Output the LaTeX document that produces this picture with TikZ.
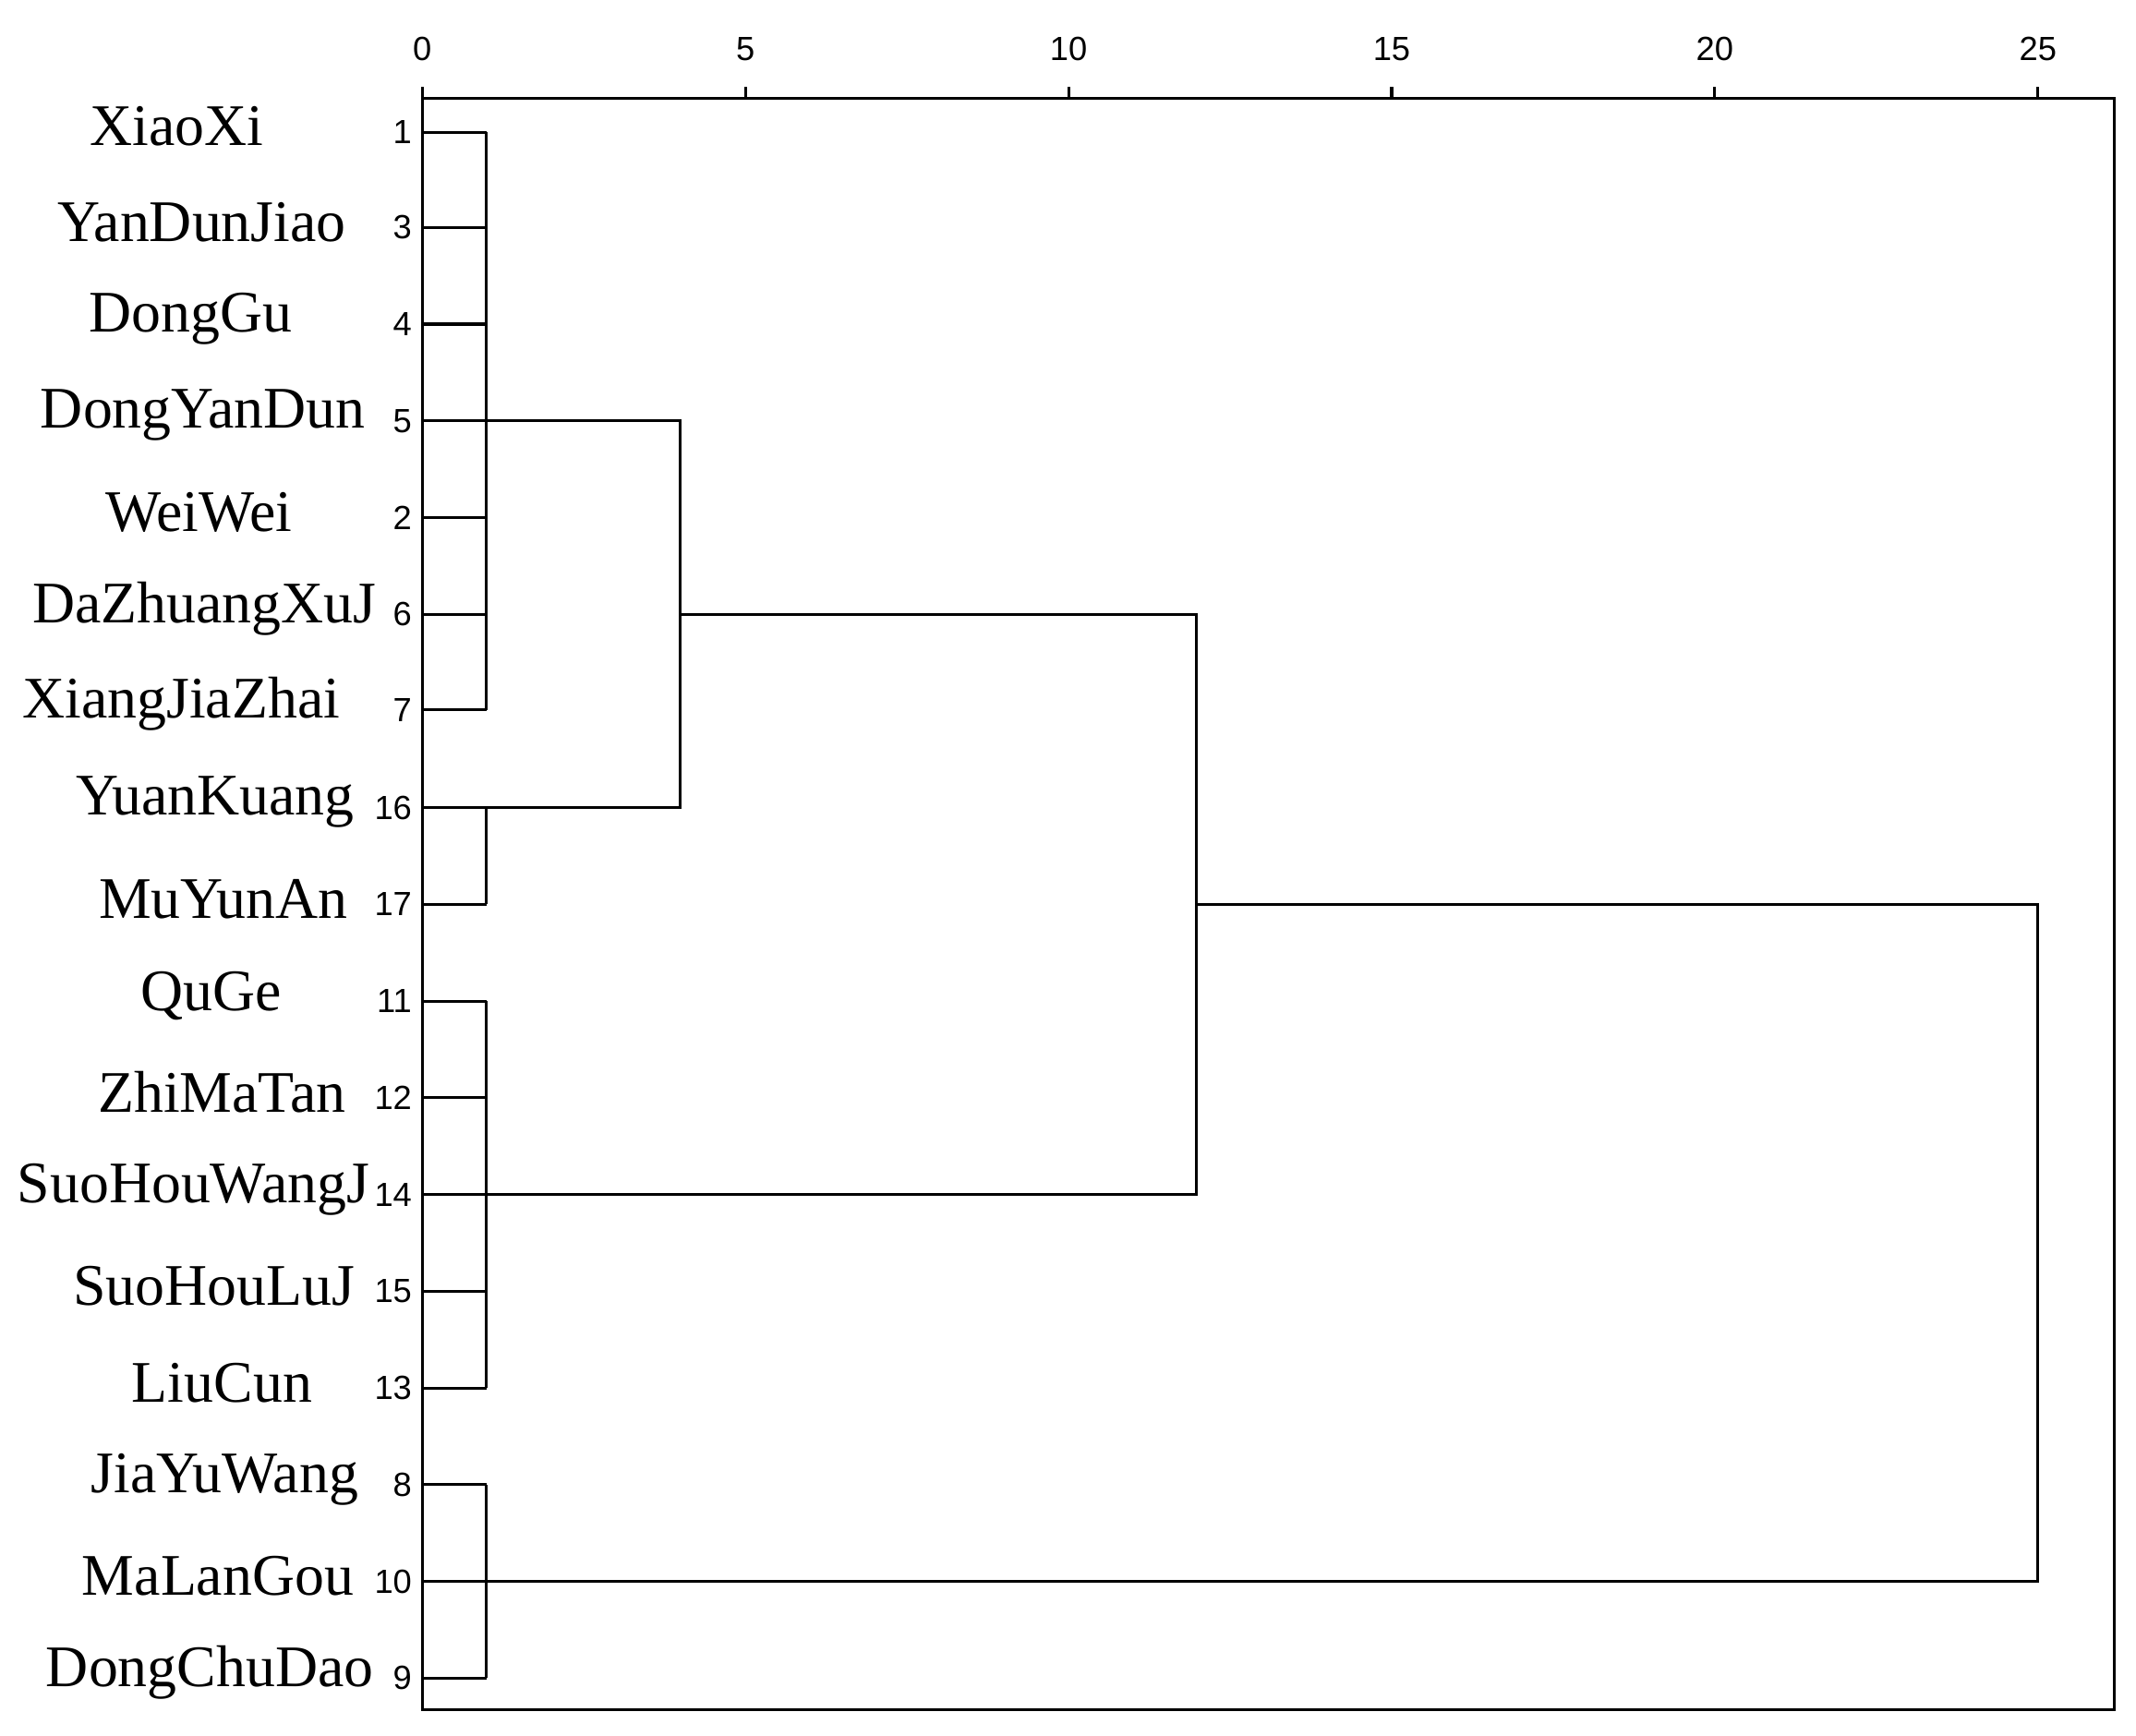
\documentclass[tikz,border=0pt]{standalone}
\usepackage{fontspec}
\setmainfont{Liberation Serif}
\newfontfamily\numfont{Liberation Sans}
\begin{document}
\begin{tikzpicture}[x=0.01cm,y=-0.01cm,
  lbl/.style={font=\fontsize{12.3}{14}\selectfont,inner sep=0pt},
  num/.style={font=\numfont\fontsize{7}{8}\selectfont,inner sep=0pt,anchor=east},
  ln/.style={line width=0.6pt,black}]
\useasboundingbox (0,0) rectangle (1568,1274);
\draw[ln] (310,72) rectangle (1552,1255);
\foreach \v in {0,5,10,15,20,25}{
  \pgfmathsetmacro\xx{310+47.44*\v}
  \draw[ln] (\xx,72) -- (\xx,64);
  \node[font=\numfont\fontsize{7}{8}\selectfont] at (\xx,36) {\v};}
\foreach \n/\name/\y/\cx in {1/XiaoXi/97/130, 3/YanDunJiao/167/148, 4/DongGu/238/140, 5/DongYanDun/309/149,
 2/WeiWei/380/146, 6/DaZhuangXuJ/451/150, 7/XiangJiaZhai/521/133, 16/YuanKuang/593/158,
 17/MuYunAn/664/164, 11/QuGe/735/155, 12/ZhiMaTan/806/163, 14/SuoHouWangJ/877/142,
 15/SuoHouLuJ/948/157, 13/LiuCun/1019/163, 8/JiaYuWang/1090/165, 10/MaLanGou/1161/160, 9/DongChuDao/1232/154}{
  \node[lbl] (L\n) at (\cx,{\y-4}) {\name};
  \node[num] (N\n) at (303,\y) {\n};
  \coordinate (r\n) at (310,\y);}
\foreach \n in {1,3,4,5,2,6,7,16,17,11,12,14,15,13,8,10,9}{\draw[ln] (r\n) -- +(47,0);}
\draw[ln] (357,97) -- (357,521);
\draw[ln] (357,593) -- (357,664);
\draw[ln] (357,309) -- (499,309) -- (499,593) -- (357,593);
\draw[ln] (357,735) -- (357,1019);
\draw[ln] (499,451) -- (878,451) -- (878,877) -- (357,877);
\draw[ln] (357,1090) -- (357,1232);
\draw[ln] (878,664) -- (1496,664) -- (1496,1161) -- (357,1161);
\end{tikzpicture}
\end{document}
